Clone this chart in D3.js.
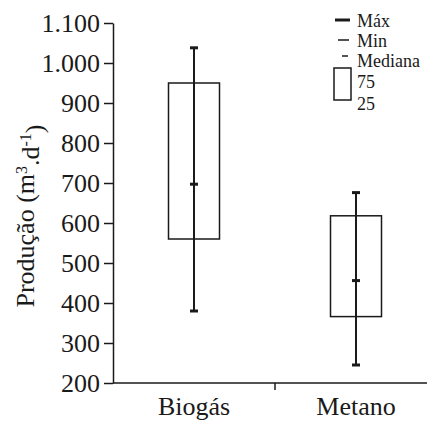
<!DOCTYPE html>
<html>
<head>
<meta charset="utf-8">
<script src="https://cdn.jsdelivr.net/npm/d3@7"></script>
<style>
  html, body { margin: 0; padding: 0; background: #fff; }
  svg { display: block; }
  svg text, svg tspan { font-family: "Liberation Serif" !important; }
</style>
</head>
<body>
<svg id="chart" width="427" height="428" font-family="Liberation Serif"></svg>
<script>
// ---- data ----
const categories = ["Biogás", "Metano"];
const maxValues = [1038, 676];
const minValues = [380, 245];
const medianValues = [697, 456];
const q75Values = [950, 618];
const q25Values = [560, 366];
const yTicks = [200, 300, 400, 500, 600, 700, 800, 900, 1000, 1100];
const legendLabels = ["Máx", "Min", "Mediana", "75", "25"];
const yLabel = "Produção (m";

const rows = categories.map((c, i) => ({
  cat: c, max: maxValues[i], min: minValues[i], med: medianValues[i],
  q75: q75Values[i], q25: q25Values[i]
}));

const FONT = "Liberation Serif";
const ink = "#1a1a1a";
const svg = d3.select("#chart");
const mLeft = 113, mRight = 437, mTop = 23, mBottom = 383;

const x = d3.scaleBand().domain(categories).range([mLeft, mRight]).padding(0);
const y = d3.scaleLinear().domain([200, 1100]).range([mBottom, mTop]);

const locale = d3.formatLocale({ decimal: ",", thousands: ".", grouping: [3], currency: ["", ""] });
const fmt = locale.format(",d");

// y axis
const yAxis = svg.append("g").attr("transform", `translate(${mLeft},0)`)
  .call(d3.axisLeft(y).tickValues(yTicks).tickFormat(fmt).tickSize(9).tickSizeOuter(0).tickPadding(4));
yAxis.attr("font-family", FONT).attr("font-size", 26);
yAxis.select(".domain").attr("stroke", ink).attr("stroke-width", 1.5);
yAxis.selectAll(".tick line").attr("stroke", ink).attr("stroke-width", 1.5);
yAxis.selectAll(".tick text").attr("fill", ink).attr("font-size", 26);

// x axis
const xAxis = svg.append("g").attr("transform", `translate(0,${mBottom})`)
  .call(d3.axisBottom(x).tickSize(0).tickSizeOuter(0).tickPadding(14));
xAxis.attr("font-family", FONT).attr("font-size", 26);
xAxis.select(".domain").attr("stroke", ink).attr("stroke-width", 1.5)
  .attr("d", `M${mLeft},0H${427}`);
xAxis.selectAll(".tick text").attr("fill", ink).attr("font-size", 26).attr("dy", "0.71em");
// boundary tick between categories
xAxis.append("line")
  .attr("x1", x(categories[1])).attr("x2", x(categories[1]))
  .attr("y1", 0).attr("y2", 7).attr("stroke", ink).attr("stroke-width", 1.5);

// y label
const yl = svg.append("text")
  .attr("transform", `translate(34,216) rotate(-90)`)
  .attr("text-anchor", "middle").attr("fill", ink)
  .attr("font-size", 26);
yl.append("tspan").text(yLabel);
yl.append("tspan").text("3").attr("dy", "-0.45em").attr("font-size", 16);
yl.append("tspan").text(".d").attr("dy", "0.45em");
yl.append("tspan").text("-1").attr("dy", "-0.45em").attr("font-size", 16);
yl.append("tspan").text(")").attr("dy", "0.45em");

// boxes
const bw = 51;
const g = svg.append("g");
rows.forEach(r => {
  const cx = x(r.cat) + x.bandwidth() / 2;
  g.append("rect")
    .attr("x", cx - bw / 2).attr("y", y(r.q75))
    .attr("width", bw).attr("height", y(r.q25) - y(r.q75))
    .attr("fill", "none").attr("stroke", ink).attr("stroke-width", 1.5);
  g.append("line")
    .attr("x1", cx).attr("x2", cx).attr("y1", y(r.max)).attr("y2", y(r.min))
    .attr("stroke", ink).attr("stroke-width", 2);
  [r.max, r.min, r.med].forEach(v => {
    g.append("line")
      .attr("x1", cx - 4).attr("x2", cx + 4).attr("y1", y(v)).attr("y2", y(v))
      .attr("stroke", ink).attr("stroke-width", 3);
  });
});

// legend
const lg = svg.append("g");
lg.append("line").attr("x1", 335).attr("x2", 350).attr("y1", 20).attr("y2", 20)
  .attr("stroke", ink).attr("stroke-width", 3);
lg.append("line").attr("x1", 338).attr("x2", 349).attr("y1", 40).attr("y2", 40)
  .attr("stroke", ink).attr("stroke-width", 1.5);
lg.append("line").attr("x1", 342).attr("x2", 348).attr("y1", 56).attr("y2", 56)
  .attr("stroke", ink).attr("stroke-width", 1.5);
lg.append("rect").attr("x", 334).attr("y", 68).attr("width", 17).attr("height", 32)
  .attr("fill", "none").attr("stroke", ink).attr("stroke-width", 1.5);
const baselines = [27, 47, 67, 88, 110];
legendLabels.forEach((t, i) => {
  lg.append("text").attr("x", 357).attr("y", baselines[i]).text(t)
    .attr("fill", ink).attr("font-size", 18);
});

// force serif font inline with priority
svg.selectAll("text, tspan").each(function () {
  this.style.setProperty("font-family", '"Liberation Serif"', "important");
});
</script>
</body>
</html>
